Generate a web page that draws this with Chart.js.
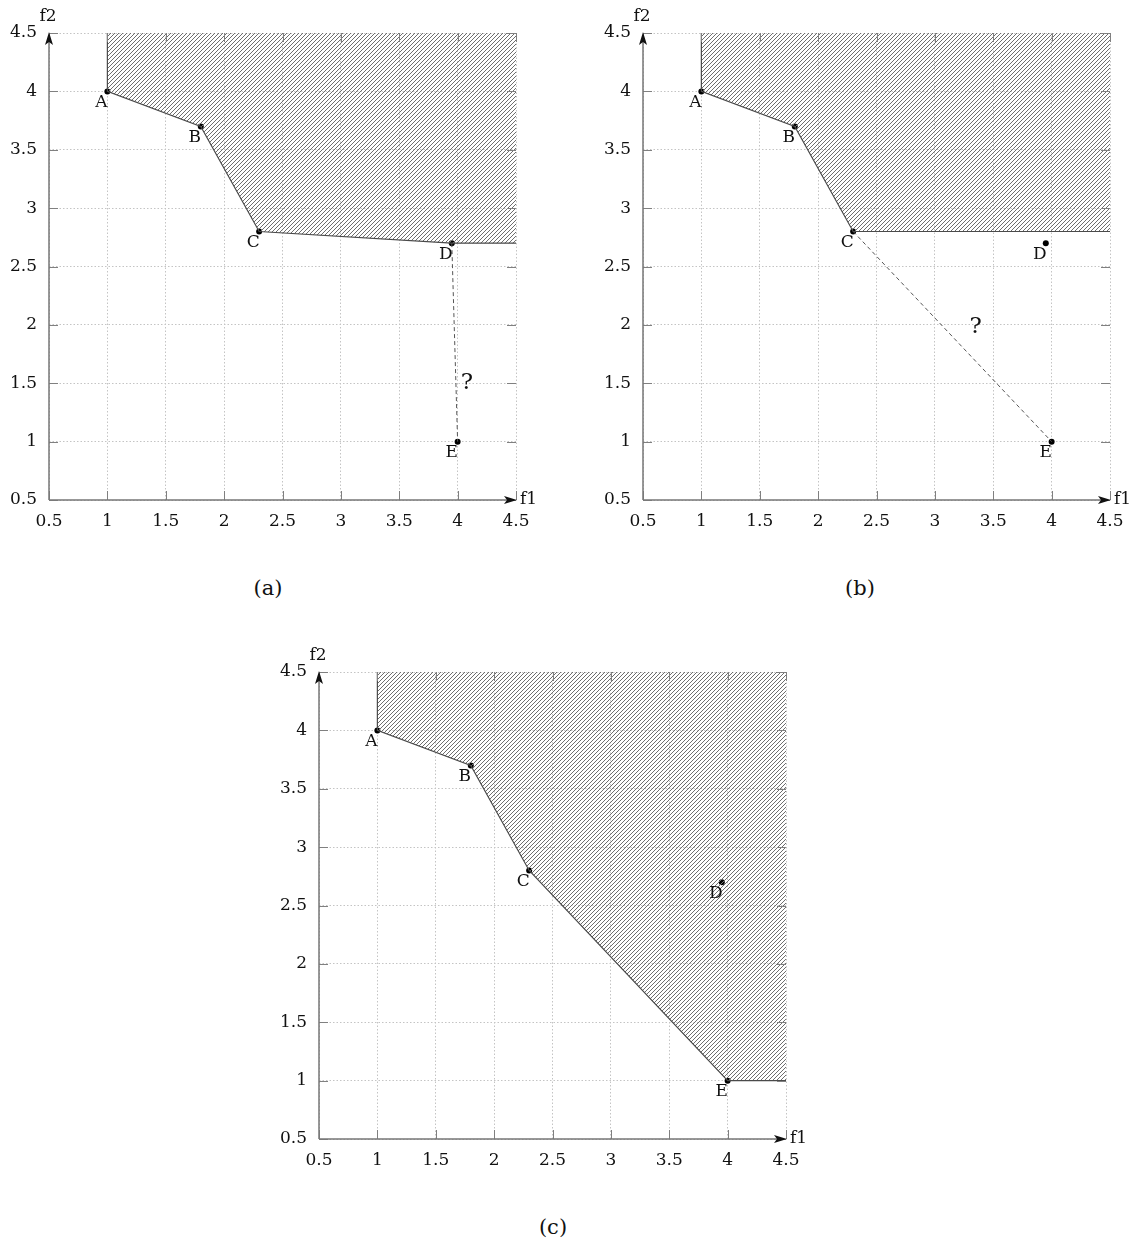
<!DOCTYPE html>
<html>
<head>
<meta charset="utf-8">
<script src="https://cdn.jsdelivr.net/npm/chart.js@4.4.0/dist/chart.umd.min.js"></script>
<style>
    body { margin: 0; background: #fff; width: 1140px; height: 1243px; overflow: hidden; position: relative; font-family: "DejaVu Serif", serif; }
    .panel { position: absolute; width: 546px; height: 545px; }
    .cap { position: absolute; font-size: 21px; line-height: 24px; width: 80px; margin-left: -40px; text-align: center; color: #111; }
</style>
</head>
<body>
<div class="panel" style="left:0;top:0"><canvas id="chartA" width="546" height="545"></canvas></div>
<div class="panel" style="left:594px;top:0"><canvas id="chartB" width="546" height="545"></canvas></div>
<div class="panel" style="left:270px;top:639px"><canvas id="chartC" width="546" height="545"></canvas></div>
<div class="cap" style="left:268px;top:576px">(a)</div>
<div class="cap" style="left:860px;top:576px">(b)</div>
<div class="cap" style="left:553px;top:1215px">(c)</div>

<script>
// les points (f1, f2)
const pointNames = ['A', 'B', 'C', 'D', 'E'];
const f1Values = [1, 1.8, 2.3, 3.95, 4];
const f2Values = [4, 3.7, 2.8, 2.7, 1];

// graduations des deux axes
const axisTicks = [0.5, 1, 1.5, 2, 2.5, 3, 3.5, 4, 4.5];
const axisMin = 0.5;
const axisMax = 4.5;

// front de chaque figure et segment en pointillés
const frontA = ['A', 'B', 'C', 'D'];
const frontB = ['A', 'B', 'C'];
const frontC = ['A', 'B', 'C', 'E'];
const dashA = ['D', 'E'];
const dashB = ['C', 'E'];

// position du "?" (coordonnées f1, f2)
const questionA = [4.08, 1.5];
const questionB = [3.35, 1.98];

const serif = 'DejaVu Serif';

function hatch() {
    let c = document.createElement('canvas');
    c.width = 4;
    c.height = 4;
    let g = c.getContext('2d');
    g.strokeStyle = '#6e6e6e';
    g.lineWidth = 1;
    g.beginPath();
    g.moveTo(0, 4); g.lineTo(4, 0);
    g.moveTo(-1, 1); g.lineTo(1, -1);
    g.moveTo(3, 5); g.lineTo(5, 3);
    g.stroke();
    return g.createPattern(c, 'repeat');
}

function pt(name) {
    let i = pointNames.indexOf(name);
    return { x: f1Values[i], y: f2Values[i] };
}

//dessine axes, fleches, graduations et etiquettes
const decor = {
    id: 'decor',
    afterDatasetsDraw(chart, args, opts) {
        const ctx = chart.ctx;
        const a = chart.chartArea;
        const x = chart.scales.x;
        const y = chart.scales.y;
        ctx.save();

        ctx.strokeStyle = '#808080';
        ctx.lineWidth = 1;
        ctx.beginPath();
        axisTicks.forEach(function(v) {
            let px = Math.round(x.getPixelForValue(v)) + 0.5;
            let py = Math.round(y.getPixelForValue(v)) + 0.5;
            ctx.moveTo(px, a.bottom); ctx.lineTo(px, a.bottom - 9);
            ctx.moveTo(px, a.top); ctx.lineTo(px, a.top + 9);
            ctx.moveTo(a.left, py); ctx.lineTo(a.left + 9, py);
            ctx.moveTo(a.right, py); ctx.lineTo(a.right - 9, py);
        });
        ctx.stroke();

        // axes
        ctx.strokeStyle = '#777';
        ctx.lineWidth = 1.5;
        ctx.beginPath();
        ctx.moveTo(a.left, a.bottom); ctx.lineTo(a.right - 4, a.bottom);
        ctx.moveTo(a.left, a.bottom); ctx.lineTo(a.left, a.top + 4);
        ctx.stroke();

        // fleches
        ctx.fillStyle = '#111';
        ctx.beginPath();
        ctx.moveTo(a.right + 1, a.bottom);
        ctx.lineTo(a.right - 12, a.bottom - 4);
        ctx.lineTo(a.right - 9, a.bottom);
        ctx.lineTo(a.right - 12, a.bottom + 4);
        ctx.closePath();
        ctx.fill();
        ctx.beginPath();
        ctx.moveTo(a.left, a.top - 1);
        ctx.lineTo(a.left - 4, a.top + 12);
        ctx.lineTo(a.left, a.top + 9);
        ctx.lineTo(a.left + 4, a.top + 12);
        ctx.closePath();
        ctx.fill();

        ctx.fillStyle = '#111';
        ctx.font = '17px ' + serif;
        ctx.textBaseline = 'middle';
        ctx.textAlign = 'center';
        ctx.fillText('f2', a.left - 1, a.top - 16);
        ctx.textAlign = 'left';
        ctx.fillText('f1', a.right + 4, a.bottom);

        // noms des points
        ctx.textAlign = 'center';
        pointNames.forEach(function(n) {
            let p = pt(n);
            ctx.fillText(n, x.getPixelForValue(p.x) - 6, y.getPixelForValue(p.y) + 11);
        });

        if (opts.question) {
            ctx.font = '23px ' + serif;
            ctx.fillText('?', x.getPixelForValue(opts.question[0]), y.getPixelForValue(opts.question[1]));
        }
        ctx.restore();
    }
};

function scaleOpts(isX) {
    return {
        type: 'linear',
        min: axisMin,
        max: axisMax,
        afterBuildTicks: function(s) {
            s.ticks = axisTicks.map(function(v) { return { value: v }; });
        },
        afterFit: function(s) {
            if (isX) s.height = 35; else s.width = 45;
        },
        grid: { color: '#c4c4c4', lineWidth: 1, drawTicks: false },
        border: { display: false, dash: [1.5, 2] },
        ticks: {
            padding: isX ? 11 : 12,
            color: '#111',
            font: { family: serif, size: 17 },
            maxRotation: 0,
            autoSkip: false,
            callback: function(v) { return String(v); }
        }
    };
}

function renderChart(name, front, dash, question) {
    let fp = front.map(pt);
    let region = [{ x: fp[0].x, y: axisMax }].concat(fp, [{ x: axisMax, y: fp[fp.length - 1].y }]);

    let datasets = [{
        data: region,
        showLine: true,
        fill: 'end',
        backgroundColor: hatch(),
        borderColor: '#4a4a4a',
        borderWidth: 1.2,
        pointRadius: 0,
        tension: 0
    }];
    if (dash) {
        datasets.push({
            data: dash.map(pt),
            showLine: true,
            fill: false,
            borderColor: '#555',
            borderWidth: 1,
            borderDash: [4, 3],
            pointRadius: 0
        });
    }
    datasets.push({
        data: pointNames.map(pt),
        showLine: false,
        pointRadius: 3,
        pointBackgroundColor: '#000',
        pointBorderWidth: 0
    });

    let ctx = document.getElementById(name).getContext('2d');
    return new Chart(ctx, {
        type: 'scatter',
        data: { datasets: datasets },
        options: {
            responsive: false,
            animation: false,
            events: [],
            layout: { padding: { top: 33, right: 30, left: 4, bottom: 10 } },
            plugins: {
                legend: { display: false },
                tooltip: { enabled: false },
                decor: { question: question }
            },
            scales: { x: scaleOpts(true), y: scaleOpts(false) }
        },
        plugins: [decor]
    });
}

renderChart('chartA', frontA, dashA, questionA);
renderChart('chartB', frontB, dashB, questionB);
renderChart('chartC', frontC, null, null);
</script>
</body>
</html>
